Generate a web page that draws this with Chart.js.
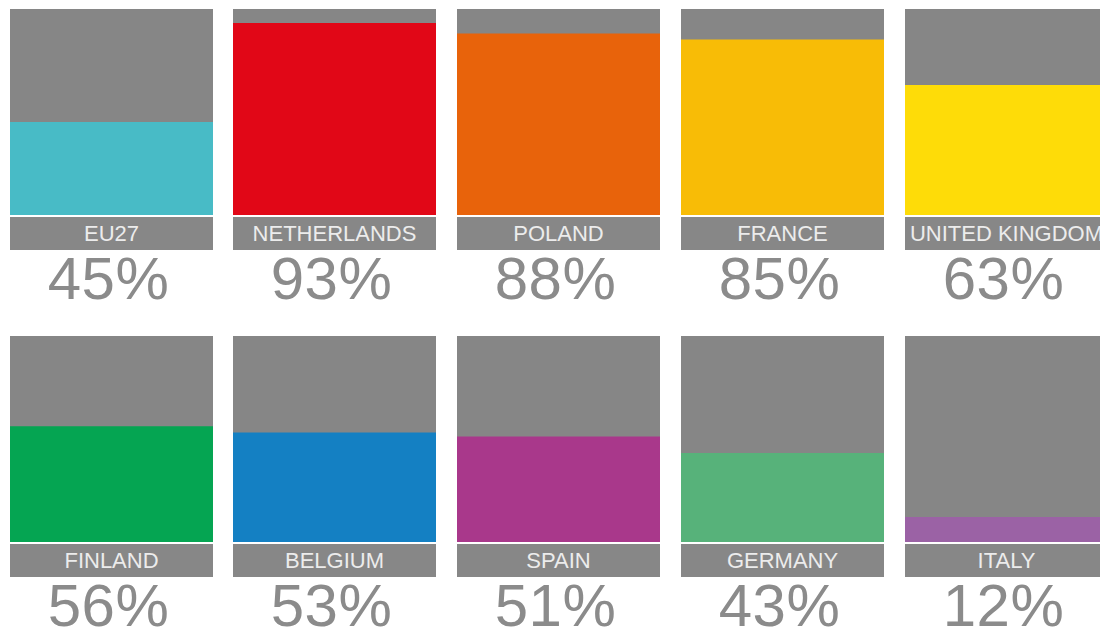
<!DOCTYPE html>
<html>
<head>
<meta charset="utf-8">
<script src="https://cdn.jsdelivr.net/npm/chart.js@4/dist/chart.umd.min.js"></script>
<style>
  html, body { margin: 0; padding: 0; background: #ffffff; }
  body { width: 1100px; height: 632px; overflow: hidden; position: relative; font-family: "Liberation Sans", Arial, Helvetica, sans-serif; }
  .panel { position: absolute; width: 203px; }
  .box { position: absolute; left: 0; top: 0; width: 203px; height: 206px; }
  .strip { position: absolute; left: 0; top: 208px; width: 203px; height: 33px; background: #878787;
           display: flex; justify-content: center; align-items: center; white-space: nowrap;
           color: #ececec; font-size: 22px; letter-spacing: 0px; }
  .pct { position: absolute; left: -3px; top: 240px; width: 203px; height: 60px; line-height: 60px;
         display: flex; justify-content: center; white-space: nowrap;
         color: #8b8b8b; font-size: 60px; letter-spacing: 0.5px; }
</style>
</head>
<body>
<script>
// Countries and the share for each, with the bar colour used for that country
const countries = ["EU27", "NETHERLANDS", "POLAND", "FRANCE", "UNITED KINGDOM",
                   "FINLAND", "BELGIUM", "SPAIN", "GERMANY", "ITALY"];
const shares = [45, 93, 88, 85, 63, 56, 53, 51, 43, 12];
const barColors = ["#48bbc6", "#e10717", "#e8630b", "#f8bc06", "#fedc08",
                   "#05a552", "#1480c3", "#a9388b", "#57b27a", "#9b62a5"];

const colX = [10, 233, 457, 681, 905];
const rowY = [9, 336];
const boxGrey = "#868686";

// Fills the plot area grey so the bar stands on a full-height background
const backdrop = {
  id: "backdrop",
  beforeDraw(chart) {
    const { ctx, chartArea: a } = chart;
    ctx.save();
    ctx.fillStyle = boxGrey;
    ctx.fillRect(a.left, a.top, a.right - a.left, a.bottom - a.top);
    ctx.restore();
  }
};

countries.forEach((name, i) => {
  const panel = document.createElement("div");
  panel.className = "panel";
  panel.style.left = colX[i % 5] + "px";
  panel.style.top = rowY[Math.floor(i / 5)] + "px";

  const box = document.createElement("div");
  box.className = "box";
  const canvas = document.createElement("canvas");
  box.appendChild(canvas);
  panel.appendChild(box);

  const strip = document.createElement("div");
  strip.className = "strip";
  strip.textContent = name;
  panel.appendChild(strip);

  const pct = document.createElement("div");
  pct.className = "pct";
  pct.textContent = shares[i] + "%";
  panel.appendChild(pct);

  document.body.appendChild(panel);

  new Chart(canvas, {
    type: "bar",
    data: {
      labels: [name],
      datasets: [{
        data: [shares[i]],
        backgroundColor: barColors[i],
        borderWidth: 0,
        barPercentage: 1,
        categoryPercentage: 1
      }]
    },
    options: {
      responsive: true,
      maintainAspectRatio: false,
      animation: false,
      layout: { padding: 0 },
      plugins: { legend: { display: false }, tooltip: { enabled: false } },
      scales: {
        x: { display: false, offset: true },
        y: { display: false, min: 0, max: 100, grace: 0 }
      }
    },
    plugins: [backdrop]
  });
});
</script>
</body>
</html>
